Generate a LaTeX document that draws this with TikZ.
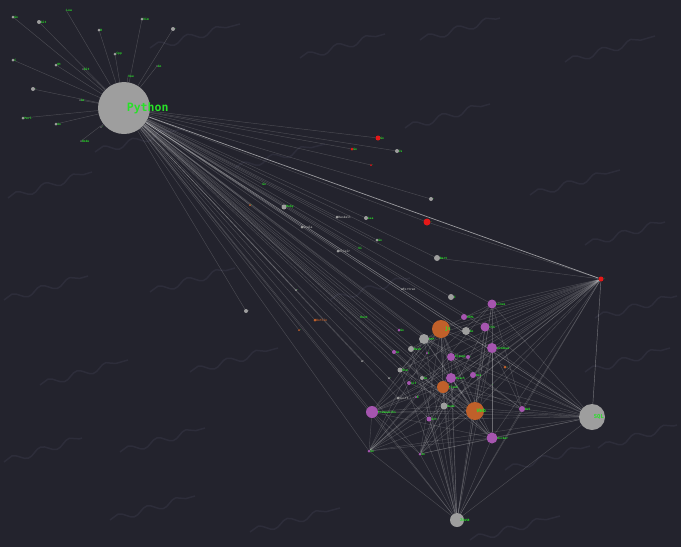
\documentclass[tikz,border=0pt]{standalone}
\usepackage{fontspec}
\setmonofont{DejaVu Sans Mono}
\usetikzlibrary{decorations.pathmorphing}

\definecolor{bgdark}{RGB}{35,35,45}
\definecolor{wavy}{RGB}{45,45,58}
\definecolor{hubgray}{RGB}{158,158,158}
\definecolor{dimgray}{RGB}{95,95,100}
\definecolor{purp}{RGB}{165,85,175}
\definecolor{orng}{RGB}{192,96,42}
\definecolor{redd}{RGB}{228,24,24}
\definecolor{tagg}{RGB}{40,225,40}

\pgfdeclarelayer{bg}
\pgfdeclarelayer{edges}
\pgfsetlayers{bg,edges,main}

\tikzset{
    tag/.style = {label={[lbl]right:#1}},
    gtag/.style = {label={[lbl, text=hubgray]right:#1}},
    otag/.style = {label={[lbl, text=orng]right:#1}},
}

\begin{document}
\begin{tikzpicture}[
            x = 1pt, y = -1pt, % one unit per pixel
            semithick
        ]

        \tikzstyle{dot}=[circle, inner sep = 0pt, fill = hubgray]
        \tikzstyle{dim}=[circle, inner sep = 0pt, fill = dimgray, minimum size = 2pt]
        \tikzstyle{purple}=[circle, inner sep = 0pt, fill = purp]
        \tikzstyle{orange}=[circle, inner sep = 0pt, fill = orng]
        \tikzstyle{reddot}=[circle, inner sep = 0pt, fill = redd]
        \tikzstyle{lbl}=[inner sep = 0pt, label distance = 0pt, xshift = -.5pt,
            text = tagg, font = \ttfamily\bfseries\fontsize{3}{3}\selectfont]
        \tikzstyle{link}=[draw = white!85!gray, opacity = .2, line width = .45pt]
        \tikzstyle{strong}=[opacity = .6, line width = .7pt]
        \tikzstyle{wave}=[decorate, decoration = {snake, amplitude = 3.5pt, segment length = 30pt},
            draw = wavy, line width = 1.5pt]

        % background
        \begin{pgfonlayer}{bg}
        \fill[bgdark] (0,0) rectangle (681,547);
        \draw[wave] (150,48) -- (240,24);
        \draw[wave] (300,58) -- (385,34);
        \draw[wave] (420,40) -- (500,18);
        \draw[wave] (565,62) -- (655,36);
        \draw[wave] (95,152) -- (185,128);
        \draw[wave] (8,198) -- (92,172);
        \draw[wave] (235,168) -- (325,144);
        \draw[wave] (405,128) -- (490,104);
        \draw[wave] (530,195) -- (620,170);
        \draw[wave] (585,245) -- (665,222);
        \draw[wave] (4,300) -- (88,276);
        \draw[wave] (150,292) -- (235,268);
        \draw[wave] (330,300) -- (410,278);
        \draw[wave] (595,318) -- (677,296);
        \draw[wave] (40,385) -- (128,360);
        \draw[wave] (190,372) -- (278,348);
        \draw[wave] (585,372) -- (670,348);
        \draw[wave] (4,462) -- (82,438);
        \draw[wave] (120,452) -- (205,428);
        \draw[wave] (110,520) -- (195,496);
        \draw[wave] (250,532) -- (340,508);
        \draw[wave] (505,470) -- (590,446);
        \draw[wave] (598,448) -- (677,425);
        \draw[wave] (470,540) -- (560,516);
        \end{pgfonlayer}

        % hubs
        \node[dot, minimum size = 52pt,
            label = {[lbl, xshift = -23pt, font = \ttfamily\bfseries\fontsize{11.5}{12}\selectfont]right:Python}]
            (py) at (124,108) {};
        \node[dot, minimum size = 26pt,
            label = {[lbl, xshift = -11pt, font = \ttfamily\bfseries\fontsize{5.5}{6}\selectfont]right:SQL}]
            (sql) at (592,417) {};
        \node[dot, minimum size = 14pt,
            label = {[lbl, xshift = -4pt, font = \ttfamily\bfseries\fontsize{4}{4}\selectfont]right:Java}]
            (jv) at (457,520) {};
        \node[reddot, minimum size = 5pt, tag = -] (rh) at (601,279) {};

        % around Python
        \node[dot, minimum size = 3pt, tag = Go] (t1) at (13,17) {};
        \node[dot, minimum size = 4pt, tag = Git] (t2) at (39,22) {};
        \node[dim, minimum size = 1pt, tag = Lua] (t3) at (66,10) {};
        \node[dot, minimum size = 3pt, tag = R] (t4) at (99,30) {};
        \node[dot, minimum size = 3pt, tag = Vim] (t5) at (142,19) {};
        \node[dot, minimum size = 4pt, tag = .] (t6) at (173,29) {};
        \node[dot, minimum size = 3pt, tag = C] (t7) at (13,60) {};
        \node[dot, minimum size = 3pt, tag = Qt] (t8) at (56,65) {};
        \node[dim, tag = Git] (t9) at (83,69) {};
        \node[dot, minimum size = 3pt, tag = Cpp] (t10) at (115,54) {};
        \node[dim, tag = Go] (t11) at (157,66) {};
        \node[dot, minimum size = 4pt, tag = .] (t12) at (33,89) {};
        \node[dim, tag = Go] (t13) at (80,100) {};
        \node[dim, minimum size = 1pt, tag = Vue] (t14) at (128,76) {};
        \node[dot, minimum size = 3pt, tag = Perl] (t15) at (23,118) {};
        \node[dot, minimum size = 3pt, tag = Go] (t16) at (56,124) {};
        \node[dim, tag = .] (t17) at (101,127) {};
        \node[dim, tag = Node] (t18) at (81,141) {};

        % middle
        \node[reddot, minimum size = 5pt, tag = Go] (m1) at (378,138) {};
        \node[reddot, minimum size = 3pt, tag = Go] (m2) at (352,149) {};
        \node[reddot, minimum size = 2pt, tag = .] (m3) at (371,165) {};
        \node[dot, minimum size = 4pt, tag = Js] (m4) at (397,151) {};
        \node[dim, minimum size = 1pt, tag = Go] (m5) at (262,184) {};
        \node[orange, minimum size = 2pt, tag = .] (m6) at (250,205) {};
        \node[dot, minimum size = 5pt, tag = Ruby] (m7) at (284,207) {};
        \node[dot, minimum size = 3pt, gtag = Haskell] (m8) at (337,217) {};
        \node[dot, minimum size = 4pt, tag = Lua] (m9) at (366,218) {};
        \node[dot, minimum size = 3pt, gtag = Scala] (m10) at (302,227) {};
        \node[dot, minimum size = 4pt, tag = .] (m11) at (431,199) {};
        \node[reddot, minimum size = 7pt, tag = .] (m12) at (427,222) {};
        \node[dot, minimum size = 3pt, tag = Go] (m13) at (377,240) {};
        \node[dim, minimum size = 1pt, tag = Vi] (m14) at (358,248) {};
        \node[dot, minimum size = 3pt, gtag = Elixir] (m15) at (338,251) {};
        \node[dot, minimum size = 6pt, tag = Dart] (m16) at (437,258) {};
        \node[dot, minimum size = 4pt, gtag = .] (m17) at (246,311) {};
        \node[dot, minimum size = 2pt, tag = .] (m18) at (296,290) {};
        \node[orange, minimum size = 2pt, tag = .] (m19) at (299,330) {};
        \node[orange, minimum size = 3pt, otag = Kotlin] (m20) at (315,320) {};
        \node[dim, minimum size = 1pt, tag = Rust] (m21) at (360,317) {};
        \node[dot, minimum size = 2pt, gtag = Fortran] (m22) at (402,289) {};
        \node[dot, minimum size = 2pt, gtag = .] (m23) at (362,361) {};

        % cluster
        \node[dot, minimum size = 6pt, tag = C] (c1) at (451,297) {};
        \node[purple, minimum size = 9pt, tag = Linux] (c2) at (492,304) {};
        \node[purple, minimum size = 6pt, tag = HTML] (c3) at (464,317) {};
        \node[orange, minimum size = 18pt,
            label = {[lbl, xshift = -5pt, font = \ttfamily\bfseries\fontsize{5}{5}\selectfont]right:js}]
            (c4) at (441,329) {};
        \node[dot, minimum size = 8pt, tag = Go] (c5) at (466,331) {};
        \node[purple, minimum size = 9pt, tag = CSS] (c6) at (485,327) {};
        \node[purple, minimum size = 3pt, tag = Go] (c7) at (399,330) {};
        \node[dot, minimum size = 10pt, tag = PHP] (c8) at (424,339) {};
        \node[purple, minimum size = 10pt, tag = Windows] (c9) at (492,348) {};
        \node[dot, minimum size = 6pt, tag = Bash] (c10) at (411,349) {};
        \node[purple, minimum size = 4pt, tag = Go] (c11) at (394,352) {};
        \node[purple, minimum size = 2pt, tag = C] (c12) at (427,353) {};
        \node[purple, minimum size = 8pt, tag = Django] (c13) at (451,357) {};
        \node[purple, minimum size = 4pt, tag = .] (c14) at (468,357) {};
        \node[dot, minimum size = 5pt, tag = Nim] (c15) at (400,370) {};
        \node[dot, minimum size = 2pt, tag = .] (c16) at (389,378) {};
        \node[dot, minimum size = 4pt, tag = Go] (c17) at (422,378) {};
        \node[purple, minimum size = 4pt, tag = Git] (c18) at (409,383) {};
        \node[purple, minimum size = 10pt, tag = React] (c19) at (451,378) {};
        \node[purple, minimum size = 6pt, tag = Vue] (c20) at (473,375) {};
        \node[orange, minimum size = 12pt, tag = Flask] (c21) at (443,387) {};
        \node[orange, minimum size = 3pt, tag = .] (c22) at (505,367) {};
        \node[dim, minimum size = 1.5pt, tag = .] (c23) at (491,385) {};
        \node[dot, minimum size = 3pt, gtag = Swift] (c24) at (398,398) {};
        \node[purple, minimum size = 2pt, tag = R] (c25) at (416,397) {};
        \node[dot, minimum size = 7pt, tag = Node] (c26) at (444,406) {};
        \node[orange, minimum size = 18pt,
            label = {[lbl, xshift = -7pt, font = \ttfamily\bfseries\fontsize{5}{5}\selectfont]right:Web}]
            (c27) at (475,411) {};
        \node[purple, minimum size = 6pt, tag = AWS] (c28) at (522,409) {};
        \node[purple, minimum size = 12pt, tag = Frameworks] (c29) at (372,412) {};
        \node[purple, minimum size = 5pt, tag = Git] (c30) at (429,419) {};
        \node[purple, minimum size = 11pt, tag = Docker] (c31) at (492,438) {};
        \node[purple, minimum size = 3pt, tag = Go] (c32) at (369,451) {};
        \node[purple, minimum size = 3pt, tag = Go] (c33) at (420,454) {};

        \begin{pgfonlayer}{edges}
        \path[link, strong] (py) edge (rh);
        \path[link, opacity = .4] (rh) edge (sql) (py) edge (sql);
        \path[link] (py) edge (t1) edge (t2) edge (t3) edge (t4) edge (t5) edge (t6)
            edge (t7) edge (t8) edge (t9) edge (t10) edge (t11) edge (t12) edge (t13)
            edge (t14) edge (t15) edge (t16) edge (t17) edge (t18);
        \path[link] (py) edge (m1) edge (m2) edge (m3) edge (m4) edge (m5) edge (m6)
            edge (m7) edge (m8) edge (m9) edge (m10) edge (m11) edge (m12) edge (m13)
            edge (m14) edge (m15) edge (m16) edge (m17) edge (m18) edge (m19) edge (m20)
            edge (m21) edge (m22) edge (m23);
        \path[link] (py) edge (c1) edge (c2) edge (c3) edge (c4) edge (c5) edge (c6)
            edge (c7) edge (c8) edge (c9) edge (c10) edge (c11) edge (c13) edge (c15)
            edge (c17) edge (c19) edge (c21) edge (c24) edge (c26) edge (c27) edge (c28)
            edge (c29) edge (c30) edge (c31) edge (c32) edge (c33) edge (jv);
        \path[link] (rh) edge (c2) edge (c3) edge (c4) edge (c6) edge (c8) edge (c9)
            edge (c10) edge (c13) edge (c15) edge (c17) edge (c19) edge (c20) edge (c21)
            edge (c26) edge (c27) edge (c28) edge (c29) edge (c30) edge (c31) edge (c32)
            edge (c33) edge (m12) edge (m16) edge (jv);
        \path[link] (sql) edge (c2) edge (c4) edge (c6) edge (c8) edge (c9) edge (c13)
            edge (c19) edge (c21) edge (c26) edge (c27) edge (c28) edge (c29) edge (c30)
            edge (c31) edge (c32) edge (c33) edge (jv);
        \path[link] (jv) edge (c2) edge (c4) edge (c6) edge (c8) edge (c9) edge (c10)
            edge (c13) edge (c15) edge (c17) edge (c19) edge (c21) edge (c26) edge (c27)
            edge (c28) edge (c29) edge (c30) edge (c31) edge (c32) edge (c33);
        \path[link] (c32) edge (c29) edge (c27) edge (c26) edge (c21) edge (c19)
            edge (c13) edge (c9) edge (c8) edge (c4) edge (c2) edge (c31);
        \path[link] (c33) edge (c29) edge (c27) edge (c26) edge (c21) edge (c19)
            edge (c9) edge (c6) edge (c4) edge (c31);
        \path[link] (c29) edge (c4) edge (c8) edge (c19) edge (c21) edge (c27)
            edge (c9) edge (c2) edge (c31) edge (c26);
        \path[link] (c4) edge (c27) edge (c21) edge (c19) edge (c9) edge (c2)
            edge (c31) edge (c13) edge (c26) edge (c10) edge (c15);
        \path[link] (c27) edge (c2) edge (c6) edge (c9) edge (c13) edge (c19)
            edge (c8) edge (c10) edge (c15) edge (c17) edge (c18);
        \path[link] (c31) edge (c2) edge (c9) edge (c19) edge (c21) edge (c8)
            edge (c15) edge (c11);
        \path[link] (c28) edge (c9) edge (c2) edge (c19) edge (c21) edge (c8);
        \end{pgfonlayer}

  \end{tikzpicture}
\end{document}
